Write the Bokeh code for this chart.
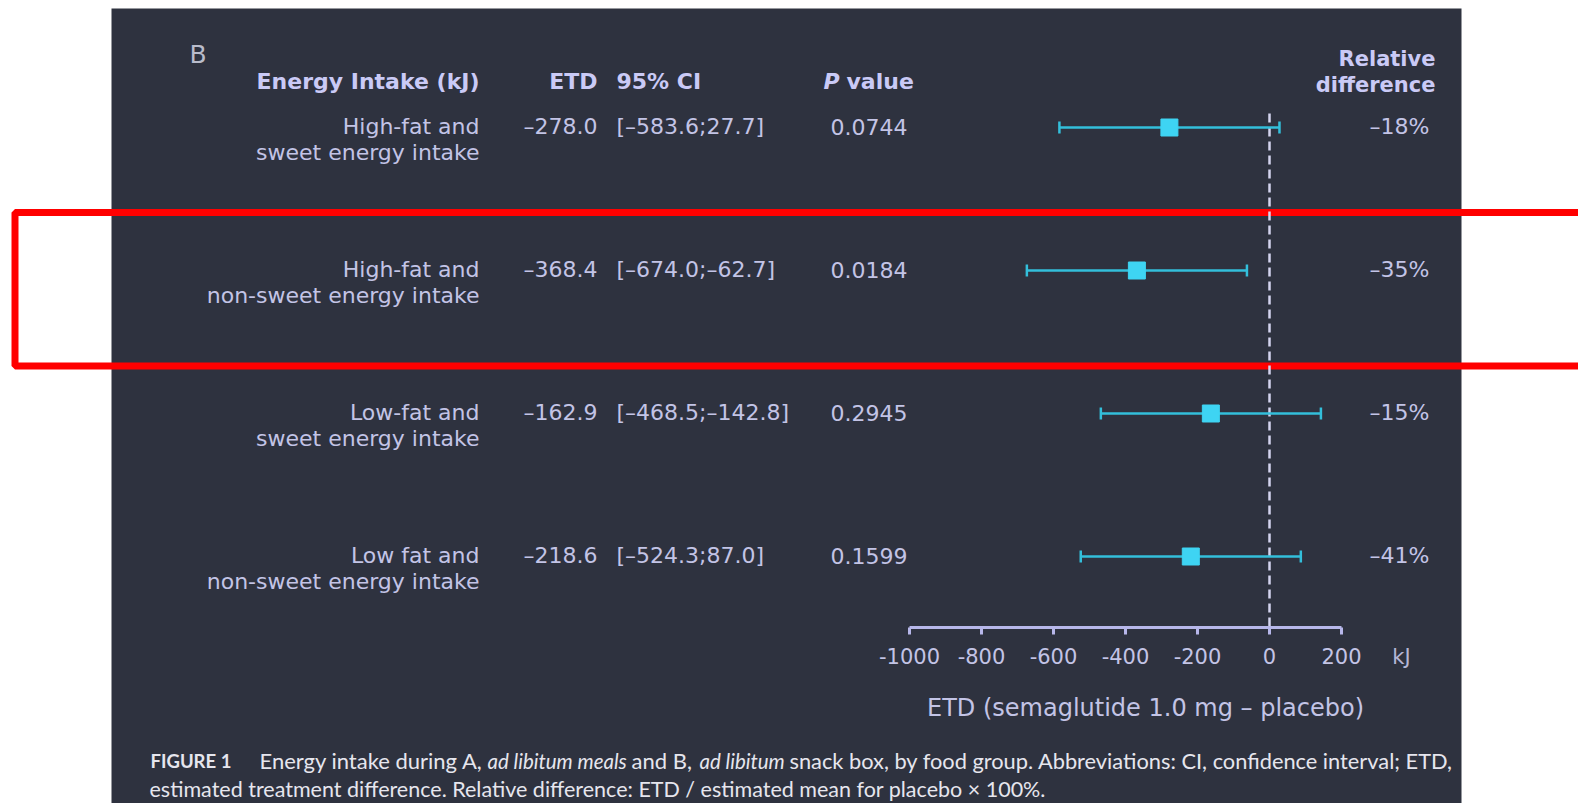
from bokeh.plotting import figure
from bokeh.models import Range1d, LinearAxis, FixedTicker, ColumnDataSource
from bokeh.core.properties import value
from bokeh.embed import file_html
from bokeh.resources import INLINE

# ---- data -------------------------------------------------------------
label_line1 = ["High-fat and", "High-fat and", "Low-fat and", "Low fat and"]
label_line2 = ["sweet energy intake", "non-sweet energy intake",
               "sweet energy intake", "non-sweet energy intake"]
etd = [-278.0, -368.4, -162.9, -218.6]
ci_low = [-583.6, -674.0, -468.5, -524.3]
ci_high = [27.7, -62.7, 142.8, 87.0]
ci_labels = ["[–583.6;27.7]", "[–674.0;–62.7]", "[–468.5;–142.8]", "[–524.3;87.0]"]
p_values = ["0.0744", "0.0184", "0.2945", "0.1599"]
rel_diff = [-18, -35, -15, -41]
ticks = [-1000, -800, -600, -400, -200, 0, 200]
tick_labels = ["-1000", "-800", "-600", "-400", "-200", "0", "200"]

# ---- layout / style ---------------------------------------------------
W, H = 1578, 803
PX_PER_KJ = 0.36
ZERO_X = 1269
ROW_Y0, ROW_STEP = 127, 143
BG = "#2e323f"
TXT = "#c3c4e6"
HEAD = "#cacaf6"
CYAN_LINE = "#33bfdb"
CYAN_BOX = "#3ed4f3"
AXIS_C = "#b7b7ea"
FONT_NAME = "DejaVu Sans"
FONT = value(FONT_NAME)
CAP_FONT = value("Lato")

row_y = [ROW_Y0 + ROW_STEP * i for i in range(len(etd))]

p = figure(width=W, height=H, x_range=Range1d(0, W), y_range=Range1d(H, 0),
           x_axis_type=None, y_axis_type=None, output_backend="svg",
           toolbar_location=None, min_border=0)
p.extra_x_ranges = {"kj": Range1d(-ZERO_X / PX_PER_KJ, (W - ZERO_X) / PX_PER_KJ)}
p.background_fill_color = "white"
p.border_fill_color = "white"
p.outline_line_color = None

# dark panel
p.quad(left=111, right=1461, top=8, bottom=H + 5, fill_color=BG, line_color=None)

# highlight frame around the second row
p.quad(left=14.5, right=W + 20, top=212, bottom=365.5, fill_alpha=0,
       line_color="#ff0000", line_width=7)

def txt(x, y, s, size="22px", align="left", color=TXT, style="normal", font=FONT):
    p.text(x=[x], y=[y], text=[s], text_font=font, text_font_size=size,
           text_align=align, text_baseline="middle", text_color=color,
           text_font_style=style)

# panel letter and column headers
txt(189, 54, "B", size="25px", color="#b9bccb")
txt(479, 81, "Energy Intake (kJ)", align="right", color=HEAD, style="bold")
txt(597, 81, "ETD", align="right", color=HEAD, style="bold")
txt(616, 81, "95% CI", color=HEAD, style="bold")
txt(823, 81, "P", color=HEAD, style="bold italic")
txt(846, 81, "value", color=HEAD, style="bold")
txt(1435, 58, "Relative", align="right", color=HEAD, style="bold", size="21px")
txt(1435, 84, "difference", align="right", color=HEAD, style="bold", size="21px")

# table columns
src = ColumnDataSource(dict(
    y1=[y - 1 for y in row_y], y2=[y + 25 for y in row_y],
    l1=label_line1, l2=label_line2,
    etd_txt=[("–" if v < 0 else "") + f"{abs(v):.1f}" for v in etd],
    ci_txt=ci_labels, p_txt=p_values,
    rd_txt=[("–" if v < 0 else "") + f"{abs(v)}%" for v in rel_diff],
))
common = dict(text_font=FONT, text_font_size="22px", text_baseline="middle",
              text_color=TXT, source=src)
p.text(x=479, y="y1", text="l1", text_align="right", **common)
p.text(x=479, y="y2", text="l2", text_align="right", **common)
p.text(x=597, y="y1", text="etd_txt", text_align="right", **common)
p.text(x=616, y="y1", text="ci_txt", text_align="left", **common)
p.text(x=830, y="y1", text="p_txt", text_align="left", **common)
p.text(x=1429, y="y1", text="rd_txt", text_align="right", **common)

# reference line at zero
p.segment(x0=[0], x1=[0], y0=[113], y1=[627], x_range_name="kj",
          line_color="#d4d4ef", line_width=2.5, line_dash="9 5")

# confidence intervals and estimates
fsrc = ColumnDataSource(dict(
    etd=etd, lo=ci_low, hi=ci_high, y=row_y,
    ytop=[y - 6 for y in row_y], ybot=[y + 6 for y in row_y],
))
p.segment(x0="lo", x1="hi", y0="y", y1="y", source=fsrc, x_range_name="kj",
          line_color=CYAN_LINE, line_width=2.5)
p.segment(x0="lo", x1="lo", y0="ytop", y1="ybot", source=fsrc, x_range_name="kj",
          line_color=CYAN_LINE, line_width=2.5)
p.segment(x0="hi", x1="hi", y0="ytop", y1="ybot", source=fsrc, x_range_name="kj",
          line_color=CYAN_LINE, line_width=2.5)
p.scatter(x="etd", y="y", source=fsrc, x_range_name="kj", marker="square",
          size=17, fill_color=CYAN_BOX, line_color=CYAN_BOX)

# x axis inside the panel
ax = LinearAxis(x_range_name="kj", fixed_location=627, bounds=(-1000, 200),
                ticker=FixedTicker(ticks=ticks),
                major_label_overrides={t: s for t, s in zip(ticks, tick_labels)},
                axis_line_color=AXIS_C, axis_line_width=3,
                major_tick_line_color=AXIS_C, major_tick_line_width=3,
                major_tick_in=0, major_tick_out=7,
                minor_tick_in=0, minor_tick_out=0,
                major_label_text_font=FONT_NAME, major_label_text_font_size="21px",
                major_label_text_color=TXT, major_label_standoff=13)
p.add_layout(ax, "below")
txt(1401, 656, "kJ", color="#b4b6d6", align="center", size="21px")
txt(1145, 707, "ETD (semaglutide 1.0 mg – placebo)", align="center", size="24px")

# figure caption
CAP_C = "#e6e6ee"
txt(150, 760, "FIGURE 1", size="18.5px", style="bold", color=CAP_C, font=CAP_FONT)
txt(259, 760, "Energy intake during A,", color=CAP_C, font=CAP_FONT)
txt(487, 760, "ad libitum meals", size="20.5px", style="italic", color=CAP_C, font=CAP_FONT)
txt(631, 760, "and B,", color=CAP_C, font=CAP_FONT)
txt(699, 760, "ad libitum", size="20.5px", style="italic", color=CAP_C, font=CAP_FONT)
txt(789, 760, "snack box, by food group. Abbreviations: CI, confidence interval; ETD,",
    size="21.8px", color=CAP_C, font=CAP_FONT)
txt(149, 788, "estimated treatment difference. Relative difference: ETD / estimated mean for placebo × 100%.",
    size="21.5px", color=CAP_C, font=CAP_FONT)

open("out.html", "w").write(file_html(p, INLINE))
